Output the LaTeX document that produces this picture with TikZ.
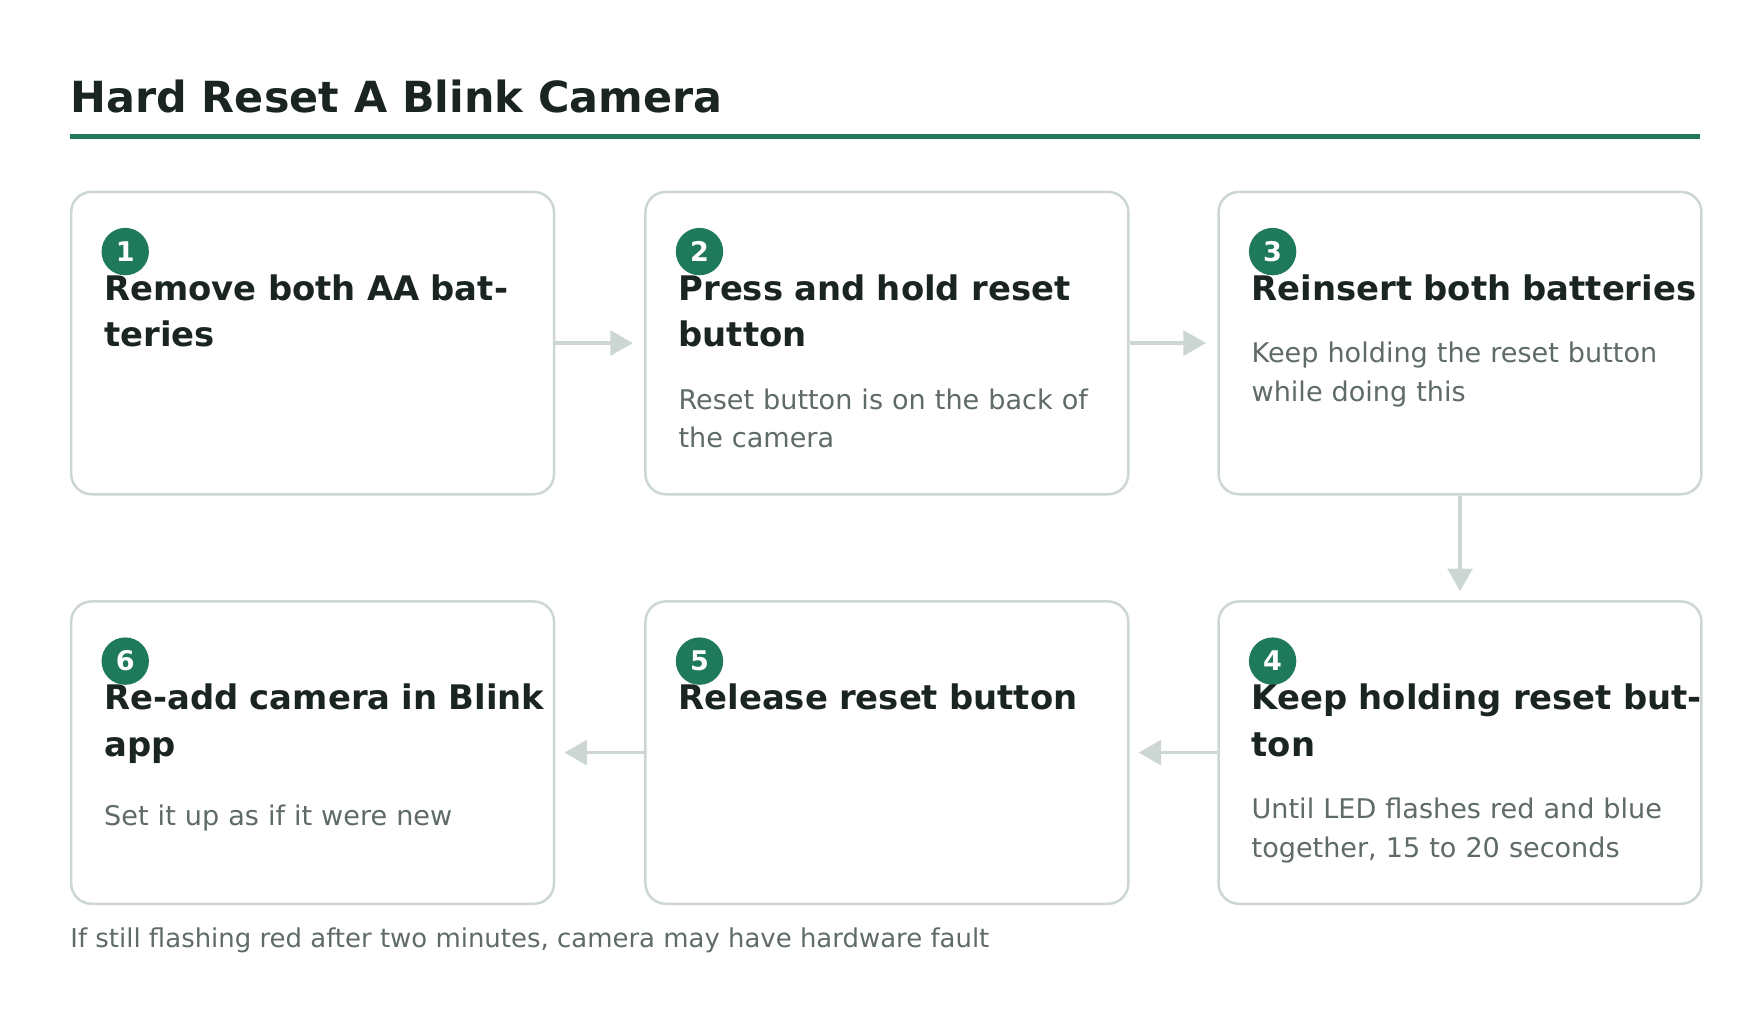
\documentclass[tikz,border=0pt]{standalone}
\usepackage{fontspec}
\setmainfont{DejaVu Sans}
\usetikzlibrary{arrows.meta,calc,positioning}
\definecolor{blinkgreen}{HTML}{1E7A5A}
\definecolor{inkdark}{HTML}{1A2420}
\definecolor{inkgray}{HTML}{5F6B66}
\definecolor{edgegray}{HTML}{CCD6D2}
\tikzset{
  stepbox/.style={draw=edgegray, line width=1.1pt, rounded corners=9pt, minimum width=214pt, minimum height=134pt, anchor=north west, fill=white},
  badge/.style={circle, fill=blinkgreen, text=white, font=\bfseries\fontsize{12}{12}\selectfont, minimum size=21pt, inner sep=0pt},
  heading/.style={anchor=north west, inner sep=0pt, text width=200pt, align=left, text=inkdark, font=\bfseries\fontsize{15}{20.5}\selectfont},
  body/.style={anchor=north west, inner sep=0pt, text width=200pt, align=left, text=inkgray, font=\fontsize{12}{17}\selectfont},
  flow/.style={draw=edgegray, line width=1.5pt, -{Triangle[length=10pt, width=11pt]}}
}
\begin{document}
\begin{tikzpicture}[x=0.5pt, y=0.5pt]
  \useasboundingbox (0,0) rectangle (1560,-897);
  % title
  \node[anchor=base west, inner sep=0pt, text=inkdark, font=\bfseries\fontsize{19}{19}\selectfont] (title) at (62,-100) {Hard Reset A Blink Camera};
  \draw[blinkgreen, line width=2pt] (62,-121) -- (1507,-121);
  % boxes
  \node[stepbox] (s1) at (62,-169) {};
  \node[stepbox] (s2) at (571,-169) {};
  \node[stepbox] (s3) at (1079,-169) {};
  \node[stepbox] (s6) at (62,-532) {};
  \node[stepbox] (s5) at (571,-532) {};
  \node[stepbox] (s4) at (1079,-532) {};
  % badges and texts
  \foreach \i/\h in {1/{Remove both AA batteries}, 2/{Press and hold reset button}, 3/{Reinsert both batteries}, 4/{Keep holding reset button}, 5/{Release reset button}, 6/{Re-add camera in Blink app}}{
    \node[badge] (b\i) at ($(s\i.north west)+(49,-54)$) {\i};
    \node[heading] (t\i) at ($(s\i.north west)+(30,-74)$) {\h};
  }
  \node[body] (d2) at ([yshift=-18]t2.south west) {Reset button is on the back of the camera};
  \node[body] (d3) at ([yshift=-18]t3.south west) {Keep holding the reset button while doing this};
  \node[body] (d4) at ([yshift=-18]t4.south west) {Until LED flashes red and blue together, 15 to 20 seconds};
  \node[body] (d6) at ([yshift=-18]t6.south west) {Set it up as if it were new};
  % connectors
  \draw[flow, shorten >=5] (s1.east) -- (s2.west);
  \draw[flow, shorten >=5] (s2.east) -- (s3.west);
  \draw[flow, shorten >=4] (s3.south) -- (s4.north);
  \draw[flow, shorten >=4] (s4.west) -- (s5.east);
  \draw[flow, shorten >=4] (s5.west) -- (s6.east);
  % footnote
  \node[anchor=base west, inner sep=0pt, text=inkgray, font=\fontsize{11.5}{11.5}\selectfont] (note) at (62,-840) {If still flashing red after two minutes, camera may have hardware fault};
\end{tikzpicture}
\end{document}
